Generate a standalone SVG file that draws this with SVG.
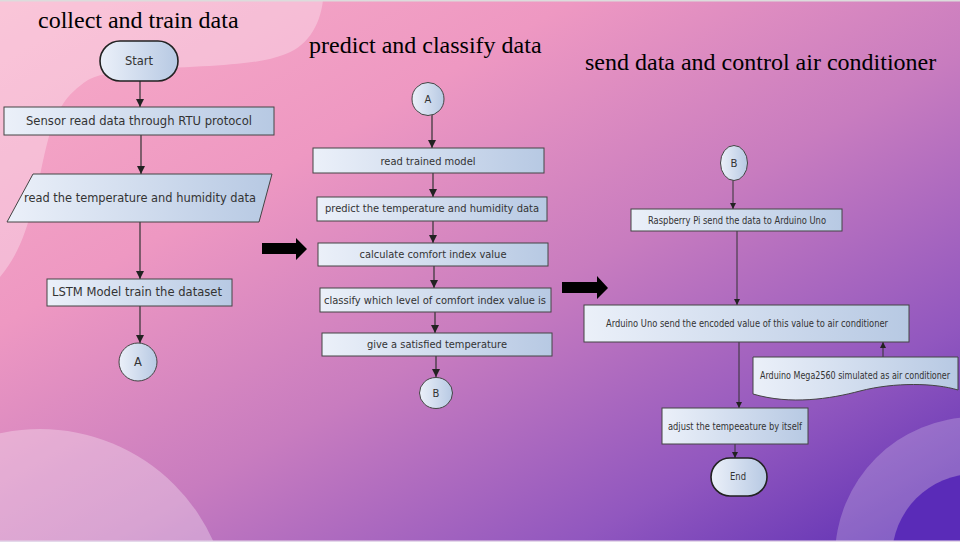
<svg xmlns="http://www.w3.org/2000/svg" width="960" height="542" viewBox="0 0 960 542">
<defs>
<linearGradient id="bg" x1="0" y1="0" x2="1" y2="1">
<stop offset="0" stop-color="#f8adc8"/>
<stop offset="0.3" stop-color="#ee98c2"/>
<stop offset="0.55" stop-color="#c87cbf"/>
<stop offset="0.8" stop-color="#9157bf"/>
<stop offset="1" stop-color="#5a2db3"/>
</linearGradient>
<linearGradient id="nf" x1="0" y1="0" x2="1" y2="0">
<stop offset="0" stop-color="#ebf0f9"/>
<stop offset="1" stop-color="#b7c9e3"/>
</linearGradient>
<marker id="ah" markerUnits="userSpaceOnUse" markerWidth="9" markerHeight="9" refX="8" refY="4" orient="auto">
<path d="M0,0 L8,4 L0,8 z" fill="#222"/>
</marker>
<marker id="ahs" markerUnits="userSpaceOnUse" markerWidth="7" markerHeight="7" refX="6" refY="3" orient="auto">
<path d="M0,0 L6,3 L0,6 z" fill="#222"/>
</marker>
</defs>
<style>
.node{fill:url(#nf);stroke:#444;stroke-width:1}
.term{fill:url(#nf);stroke:#222;stroke-width:1.6}
.t1{font-family:"DejaVu Sans",sans-serif;font-size:11.5px;fill:#333;text-anchor:middle;dominant-baseline:central}
.t2{font-family:"DejaVu Sans",sans-serif;font-size:10px;fill:#333;text-anchor:middle;dominant-baseline:central}
.t3{font-family:"DejaVu Sans",sans-serif;font-size:10.5px;fill:#333;text-anchor:middle;dominant-baseline:central}
.title{font-family:"Liberation Serif",serif;font-size:24px;fill:#000}
.c{stroke:#333;stroke-width:1.2;fill:none;marker-end:url(#ah)}
.cs{stroke:#333;stroke-width:1;fill:none;marker-end:url(#ahs)}
</style>
<rect width="960" height="542" fill="url(#bg)"/>
<path d="M0,0 H323 C320,28 305,48 283,55 C255,66 200,66 133,70 C110,72 95,76 88,80 C65,95 58,110 50,133 C42,160 38,190 33,205 C25,235 18,255 0,277 Z" fill="#ffffff" fill-opacity="0.3"/>
<circle cx="40" cy="619" r="190" fill="#ffffff" fill-opacity="0.3"/>
<circle cx="975" cy="557" r="140" fill="#ffffff" fill-opacity="0.22"/>
<circle cx="975" cy="557" r="83" fill="#5a2bb8"/>
<rect x="0" y="0" width="960" height="1.5" fill="#dcdcdc"/>
<rect x="0" y="540.5" width="960" height="1.5" fill="#e4d8ea"/>

<text class="title" x="38" y="28">collect and train data</text>
<text class="title" x="309" y="53">predict and classify data</text>
<text class="title" x="585" y="70">send data and control air conditioner</text>

<polygon points="262,243 296,243 296,238 307,249 296,260 296,254 262,254" fill="#000"/>
<polygon points="562,282 597,282 597,276 608,288 597,299 597,293 562,293" fill="#000"/>

<g id="connectors">
<line class="c" x1="140" y1="81" x2="140" y2="107"/>
<line class="c" x1="141" y1="135" x2="141" y2="174"/>
<line class="c" x1="140" y1="222" x2="140" y2="279"/>
<line class="c" x1="140" y1="306" x2="140" y2="343"/>
<line class="c" x1="432" y1="115" x2="432" y2="148"/>
<line class="c" x1="433" y1="173" x2="433" y2="197"/>
<line class="c" x1="433" y1="221" x2="433" y2="243"/>
<line class="c" x1="434" y1="266" x2="434" y2="288"/>
<line class="c" x1="435" y1="312" x2="435" y2="333"/>
<line class="c" x1="436" y1="356" x2="436" y2="377"/>
<line class="cs" x1="733" y1="180" x2="733" y2="209"/>
<line class="cs" x1="737" y1="231" x2="737" y2="305"/>
<line class="cs" x1="739" y1="342" x2="739" y2="408"/>
<line class="cs" x1="883" y1="357" x2="883" y2="342"/>
<line class="cs" x1="735" y1="444" x2="735" y2="458"/>
</g>

<g id="start"><rect class="term" x="100" y="41" width="78" height="40" rx="20"/><text class="t1" x="139" y="61">Start</text></g>
<g id="sensor"><rect class="node" x="4" y="107" width="270" height="28"/><text class="t1" x="139" y="121" textLength="226" lengthAdjust="spacingAndGlyphs">Sensor read data through RTU protocol</text></g>
<g id="readth"><polygon class="node" points="33,174 272,174 259,222 7,222"/><text class="t1" x="140" y="198" textLength="232" lengthAdjust="spacingAndGlyphs">read the temperature and humidity data</text></g>
<g id="lstm"><rect class="node" x="47" y="279" width="185" height="27"/><text class="t1" x="137" y="292" textLength="170" lengthAdjust="spacingAndGlyphs">LSTM Model train the dataset</text></g>
<g id="a1"><circle class="node" cx="138" cy="362" r="19"/><text class="t1" x="138" y="362">A</text></g>

<g id="a2"><ellipse class="node" cx="428" cy="99" rx="16" ry="16.5"/><text class="t2" x="428" y="99">A</text></g>
<g id="readmodel"><rect class="node" x="313" y="148" width="231" height="25"/><text class="t2" x="428" y="161" textLength="95" lengthAdjust="spacingAndGlyphs">read trained model</text></g>
<g id="predict"><rect class="node" x="317" y="197" width="230" height="24"/><text class="t2" x="432" y="208" textLength="214" lengthAdjust="spacingAndGlyphs">predict the temperature and humidity data</text></g>
<g id="calc"><rect class="node" x="318" y="243" width="230" height="23"/><text class="t2" x="433" y="254" textLength="147" lengthAdjust="spacingAndGlyphs">calculate comfort index value</text></g>
<g id="classify"><rect class="node" x="320" y="288" width="231" height="24"/><text class="t2" x="435" y="300" textLength="222" lengthAdjust="spacingAndGlyphs">classify which level of comfort index value is</text></g>
<g id="give"><rect class="node" x="322" y="333" width="230" height="23"/><text class="t2" x="437" y="344" textLength="140" lengthAdjust="spacingAndGlyphs">give a satisfied temperature</text></g>
<g id="b2"><ellipse class="node" cx="436" cy="393" rx="16.5" ry="15.5"/><text class="t2" x="436" y="393">B</text></g>

<g id="b3"><ellipse class="node" cx="734" cy="163" rx="13.5" ry="17.5"/><text class="t3" x="734" y="163" textLength="7" lengthAdjust="spacingAndGlyphs">B</text></g>
<g id="raspi"><rect class="node" x="631" y="209" width="211" height="22"/><text class="t3" x="737" y="220" textLength="178" lengthAdjust="spacingAndGlyphs">Raspberry Pi send the data to Arduino Uno</text></g>
<g id="uno"><rect class="node" x="584" y="305" width="325" height="37"/><text class="t3" x="747" y="323" textLength="282" lengthAdjust="spacingAndGlyphs">Arduino Uno send the encoded value of this value to air conditioner</text></g>
<g id="mega"><path class="node" d="M753,357 H958 V390 C935,383 895,382 860,391 C830,399 790,405 753,394 Z"/><text class="t3" transform="translate(855,376) scale(0.72,1)" x="0" y="0" textLength="264" lengthAdjust="spacingAndGlyphs">Arduino Mega2560 simulated as air conditioner</text></g>
<g id="adjust"><rect class="node" x="662" y="408" width="146" height="36"/><text class="t3" x="735" y="426" textLength="134" lengthAdjust="spacingAndGlyphs">adjust the tempeeature by itself</text></g>
<g id="end"><rect class="term" x="711" y="458" width="56" height="38" rx="19"/><text class="t3" x="738" y="476" textLength="16" lengthAdjust="spacingAndGlyphs">End</text></g>
</svg>
